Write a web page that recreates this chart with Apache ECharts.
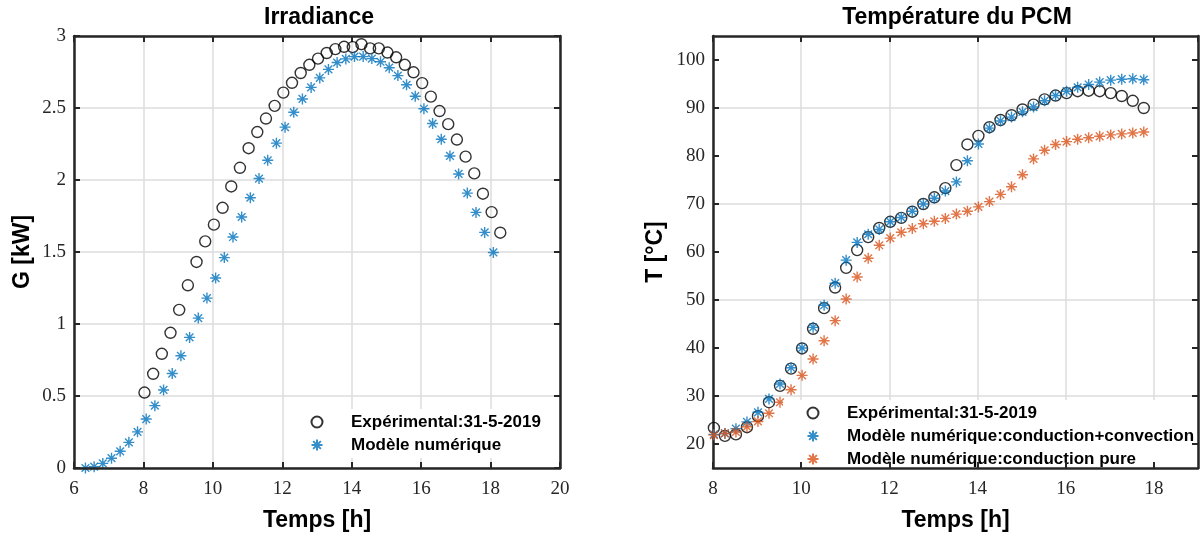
<!DOCTYPE html>
<html>
<head>
<meta charset="utf-8">
<script src="https://cdn.jsdelivr.net/npm/echarts@6.0.0/dist/echarts.min.js"></script>
<style>
  html, body { margin: 0; padding: 0; background: #fff; }
  #chart { width: 1202px; height: 537px; }
</style>
</head>
<body>
<div id="chart"></div>
<script>
// Irradiance (kW) — mesures du 31-5-2019 et modèle
const irrExpT = [8.03, 8.28, 8.53, 8.78, 9.03, 9.28, 9.53, 9.78, 10.03, 10.28, 10.53, 10.78, 11.03, 11.28,
  11.53, 11.78, 12.03, 12.28, 12.53, 12.78, 13.03, 13.28, 13.53, 13.78, 14.03, 14.28, 14.53, 14.78,
  15.03, 15.28, 15.53, 15.78, 16.03, 16.28, 16.53, 16.78, 17.03, 17.28, 17.53, 17.78, 18.03, 18.28]
const irrExpG = [0.524, 0.654, 0.793, 0.939, 1.098, 1.269, 1.431, 1.574, 1.690, 1.807, 1.955, 2.085, 2.221, 2.333,
  2.427, 2.515, 2.607, 2.675, 2.743, 2.800, 2.843, 2.882, 2.909, 2.925, 2.923, 2.943, 2.914, 2.914,
  2.885, 2.852, 2.800, 2.748, 2.673, 2.579, 2.479, 2.388, 2.281, 2.162, 2.046, 1.905, 1.777, 1.634]

const irrModT = [6.33, 6.58, 6.83, 7.08, 7.33, 7.58, 7.83, 8.08, 8.33, 8.58, 8.83, 9.08, 9.33, 9.58, 9.83, 10.08,
  10.33, 10.58, 10.83, 11.08, 11.33, 11.58, 11.83, 12.08, 12.33, 12.58, 12.83, 13.08, 13.33, 13.58, 13.83, 14.08,
  14.33, 14.58, 14.83, 15.08, 15.33, 15.58, 15.83, 16.08, 16.33, 16.58, 16.83, 17.08, 17.33, 17.58, 17.83, 18.08]
const irrModG = [0.000, 0.009, 0.032, 0.068, 0.116, 0.178, 0.251, 0.340, 0.433, 0.542, 0.656, 0.779, 0.907, 1.041, 1.180, 1.319,
  1.461, 1.604, 1.743, 1.877, 2.010, 2.137, 2.256, 2.367, 2.470, 2.563, 2.643, 2.709, 2.768, 2.816, 2.841, 2.857,
  2.857, 2.843, 2.821, 2.780, 2.725, 2.661, 2.582, 2.495, 2.392, 2.283, 2.167, 2.042, 1.909, 1.775, 1.636, 1.497]

// Température du PCM (°C)
const pcmT = [8.02, 8.27, 8.52, 8.77, 9.02, 9.27, 9.52, 9.77, 10.02, 10.27, 10.52, 10.77, 11.02, 11.27,
  11.52, 11.77, 12.02, 12.27, 12.52, 12.77, 13.02, 13.27, 13.52, 13.77, 14.02, 14.27, 14.52, 14.77,
  15.02, 15.27, 15.52, 15.77, 16.02, 16.27, 16.52, 16.77, 17.02, 17.27, 17.52, 17.77]
const pcmExp = [23.35, 21.7, 22.0, 23.5, 25.8, 28.7, 32.1, 35.7, 39.9, 44.0, 48.3, 52.6, 56.7, 60.4,
  63.1, 65.0, 66.3, 67.1, 68.4, 70.0, 71.4, 73.3, 78.1, 82.4, 84.2, 86.0, 87.5, 88.5,
  89.7, 90.7, 91.8, 92.6, 93.1, 93.5, 93.6, 93.5, 93.1, 92.5, 91.5, 90.0]
const pcmConv = [22.0, 22.2, 23.2, 24.6, 26.6, 29.4, 32.5, 35.9, 40.0, 44.3, 48.9, 53.5, 58.3, 62.0,
  63.7, 64.7, 66.3, 67.2, 68.5, 70.0, 71.2, 72.7, 74.6, 79.0, 82.5, 85.8, 87.3, 88.1,
  89.2, 90.2, 91.5, 92.6, 93.5, 94.3, 94.9, 95.4, 95.8, 96.0, 96.1, 95.9]
const pcmCond = [21.85, 22.2, 22.5, 23.6, 24.7, 26.4, 28.7, 31.3, 34.3, 37.7, 41.5, 45.7, 50.2, 54.8,
  58.7, 61.4, 62.9, 64.1, 64.9, 65.9, 66.4, 67.0, 67.9, 68.5, 69.4, 70.5, 72.0, 73.6,
  76.1, 79.4, 81.2, 82.4, 83.0, 83.5, 83.8, 84.1, 84.4, 84.6, 84.8, 85.0]

const tempTicks = [20, 30, 40, 50, 60, 70, 80, 90, 100]

const names = {
  exp: 'Expérimental:31-5-2019',
  mod: 'Modèle numérique',
  conv: 'Modèle numérique:conduction+convection',
  cond: 'Modèle numérique:conduction pure'
}

const BLUE = '#0072BD'
const ORANGE = '#D95319'
const AXIS = '#262626'
const GRID = '#dcdcdc'
// asterisque façon MATLAB : + et x superposés
const STAR = 'path://M0,-10L0,10M-10,0L10,0M-7,-7L7,7M-7,7L7,-7'

const zip = (xs, ys) => xs.map((x, i) => [x, ys[i]])

const tickFont = { fontFamily: 'Liberation Serif', fontSize: 19, color: AXIS }
const nameFont = { fontFamily: 'Liberation Sans', fontSize: 23, fontWeight: 'bold', color: '#000' }
const titleFont = { fontFamily: 'Liberation Sans', fontSize: 23, fontWeight: 'bold', color: '#000' }

// labels : axe avec graduations chiffrées ; grid : porte les lignes de grille ; front : cadre au-dessus de la légende
function boxAxis(extra, gridIndex, labels, grid, front) {
  return Object.assign({
    type: 'value',
    gridIndex: gridIndex,
    z: front ? 6 : 0,
    axisLine: { show: true, onZero: false, lineStyle: { color: AXIS, width: 2.5 } },
    axisTick: { show: true, inside: true, length: 6, lineStyle: { color: AXIS, width: 2 } },
    axisLabel: labels ? Object.assign({ margin: 8 }, tickFont) : { show: false },
    splitLine: grid ? { show: true, lineStyle: { color: GRID, width: 1.5 } } : { show: false }
  }, extra)
}

const circle = { symbol: 'circle', symbolSize: 11, itemStyle: { color: 'none', borderColor: '#000', borderWidth: 1.4 } }
const star = (c) => ({ symbol: STAR, symbolSize: 11, itemStyle: { color: 'none', borderColor: c, borderWidth: 1.4 } })

const legendBase = {
  orient: 'vertical',
  selectedMode: false,
  backgroundColor: '#fff',
  z: 3,
  itemWidth: 52,
  itemHeight: 11,
  itemGap: 5,
  textStyle: { fontFamily: 'Liberation Sans', fontSize: 17, fontWeight: 'bold', color: '#000', lineHeight: 18, padding: [0, 0, 0, 3] }
}

const chart = echarts.init(document.getElementById('chart'), null, { renderer: 'canvas' })

chart.setOption({
  animation: false,
  backgroundColor: '#fff',
  title: [
    { text: 'Irradiance', left: 319, top: 6, padding: 0, textAlign: 'center', textStyle: titleFont },
    { text: 'Température du PCM', left: 957, top: 6, padding: 0, textAlign: 'center', textStyle: titleFont }
  ],
  grid: [
    { left: 74, top: 36, width: 486, height: 438 },
    { left: 713, top: 36, width: 485, height: 438 }
  ],
  xAxis: [
    boxAxis({ min: 6, max: 20, interval: 2, position: 'bottom', name: 'Temps [h]', nameLocation: 'middle', nameGap: 41, nameTextStyle: nameFont }, 0, true, false, true),
    boxAxis({ min: 6, max: 20, interval: 2, position: 'top' }, 0, false, true, false),
    boxAxis({ min: 8, max: 19, interval: 2, position: 'bottom', name: 'Temps [h]', nameLocation: 'middle', nameGap: 41, nameTextStyle: nameFont }, 1, true, false, true),
    boxAxis({ min: 8, max: 19, interval: 2, position: 'top' }, 1, false, true, false)
  ],
  yAxis: [
    boxAxis({ min: 0, max: 3, interval: 0.5, position: 'left', name: 'G [kW]', nameLocation: 'middle', nameGap: 40, nameTextStyle: nameFont }, 0, true, true, false),
    boxAxis({ min: 0, max: 3, interval: 0.5, position: 'right' }, 0, false, false, true),
    boxAxis({ min: 15, max: 105, interval: 5, position: 'left', name: 'T [°C]', nameLocation: 'middle', nameGap: 46, nameTextStyle: nameFont }, 1, true, true, false),
    boxAxis({ min: 15, max: 105, interval: 5, position: 'right' }, 1, false, false, true)
  ],
  legend: [
    Object.assign({}, legendBase, { left: 303, top: 409, padding: [4, 4, 4, 6], data: [names.exp, names.mod] }),
    Object.assign({}, legendBase, { left: 783, top: 400, padding: [4, 2, 4, 22], data: [names.exp, names.conv, names.cond] })
  ],
  series: [
    Object.assign({ type: 'scatter', name: names.exp, xAxisIndex: 0, yAxisIndex: 0, data: zip(irrExpT, irrExpG) }, circle),
    Object.assign({ type: 'scatter', name: names.mod, xAxisIndex: 0, yAxisIndex: 0, data: zip(irrModT, irrModG) }, star(BLUE)),
    Object.assign({ type: 'scatter', name: names.exp, xAxisIndex: 2, yAxisIndex: 2, data: zip(pcmT, pcmExp) }, circle),
    Object.assign({ type: 'scatter', name: names.conv, xAxisIndex: 2, yAxisIndex: 2, data: zip(pcmT, pcmConv) }, star(BLUE)),
    Object.assign({ type: 'scatter', name: names.cond, xAxisIndex: 2, yAxisIndex: 2, data: zip(pcmT, pcmCond) }, star(ORANGE))
  ]
})

// axe T : graduations tous les 10 °C seulement (min 15 impose un pas de 5)
const opt = chart.getOption()
const tempY = opt.yAxis[2]
tempY.axisLabel.formatter = (v) => (v % 10 === 0 ? String(v) : '')
tempY.axisTick.customValues = tempTicks
tempY.splitLine.lineStyle.color = ['rgba(0,0,0,0)', GRID]
opt.yAxis[3].axisTick.customValues = tempTicks
opt.xAxis[0].axisLabel.margin = 12
opt.xAxis[2].axisLabel.margin = 12
opt.xAxis[2].axisLabel.showMaxLabel = false
chart.setOption({ yAxis: opt.yAxis, xAxis: opt.xAxis })
</script>
</body>
</html>
